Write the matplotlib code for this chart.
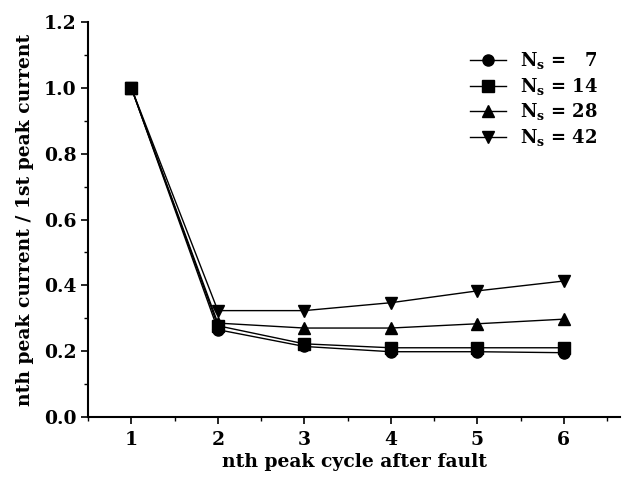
import matplotlib
matplotlib.use('Agg')
import matplotlib.pyplot as plt
from matplotlib.ticker import MultipleLocator

CYCLES=[1,2,3,4,5,6]
NS_7=[1.0,0.265,0.214,0.198,0.198,0.195]
NS_14=[1.0,0.277,0.222,0.210,0.210,0.210]
NS_28=[1.0,0.285,0.270,0.270,0.283,0.297]
NS_42=[1.0,0.323,0.323,0.347,0.383,0.413]
LABELS=[r'N$_s$ =   7',r'N$_s$ = 14',r'N$_s$ = 28',r'N$_s$ = 42']
MARKERS=['o','s','^','v']

plt.rcParams['font.family']='DejaVu Serif'
plt.rcParams['font.weight']='bold'
plt.rcParams['mathtext.fontset']='custom'
plt.rcParams['mathtext.rm']='DejaVu Serif:bold'
plt.rcParams['mathtext.it']='DejaVu Serif:bold'

fig=plt.figure(figsize=(6.25,4.83),dpi=100)
ax=fig.add_axes([0.141,0.137,0.851,0.817])

for ys,m,lab in zip([NS_7,NS_14,NS_28,NS_42],MARKERS,LABELS):
    ax.plot(CYCLES,ys,color='black',lw=1.0,marker=m,ms=8,label=lab)

ax.set_xlim(0.5,6.65)
ax.set_ylim(0,1.2)
ax.xaxis.set_major_locator(MultipleLocator(1))
ax.xaxis.set_minor_locator(MultipleLocator(0.5))
ax.yaxis.set_major_locator(MultipleLocator(0.2))
ax.yaxis.set_minor_locator(MultipleLocator(0.1))
ax.set_xticks([1,2,3,4,5,6])
ax.yaxis.set_major_formatter(plt.FormatStrFormatter('%.1f'))
for s in ['top','right']:
    ax.spines[s].set_visible(False)
for s in ['left','bottom']:
    ax.spines[s].set_linewidth(1.5)
ax.tick_params(which='major',direction='out',length=5,width=1.2,labelsize=13.5)
ax.tick_params(axis='x',which='major',pad=5)
ax.tick_params(which='minor',direction='out',length=3,width=1.0)
ax.set_xlabel('nth peak cycle after fault',fontsize=13.5,fontweight='bold',labelpad=3)
ax.set_ylabel('nth peak current / 1st peak current',fontsize=13.5,fontweight='bold',labelpad=7)
ax.legend(loc='upper right',frameon=False,fontsize=13,handlelength=2.0,
          labelspacing=0.25,bbox_to_anchor=(0.99,0.97))

fig.savefig('out.png',dpi=100)
